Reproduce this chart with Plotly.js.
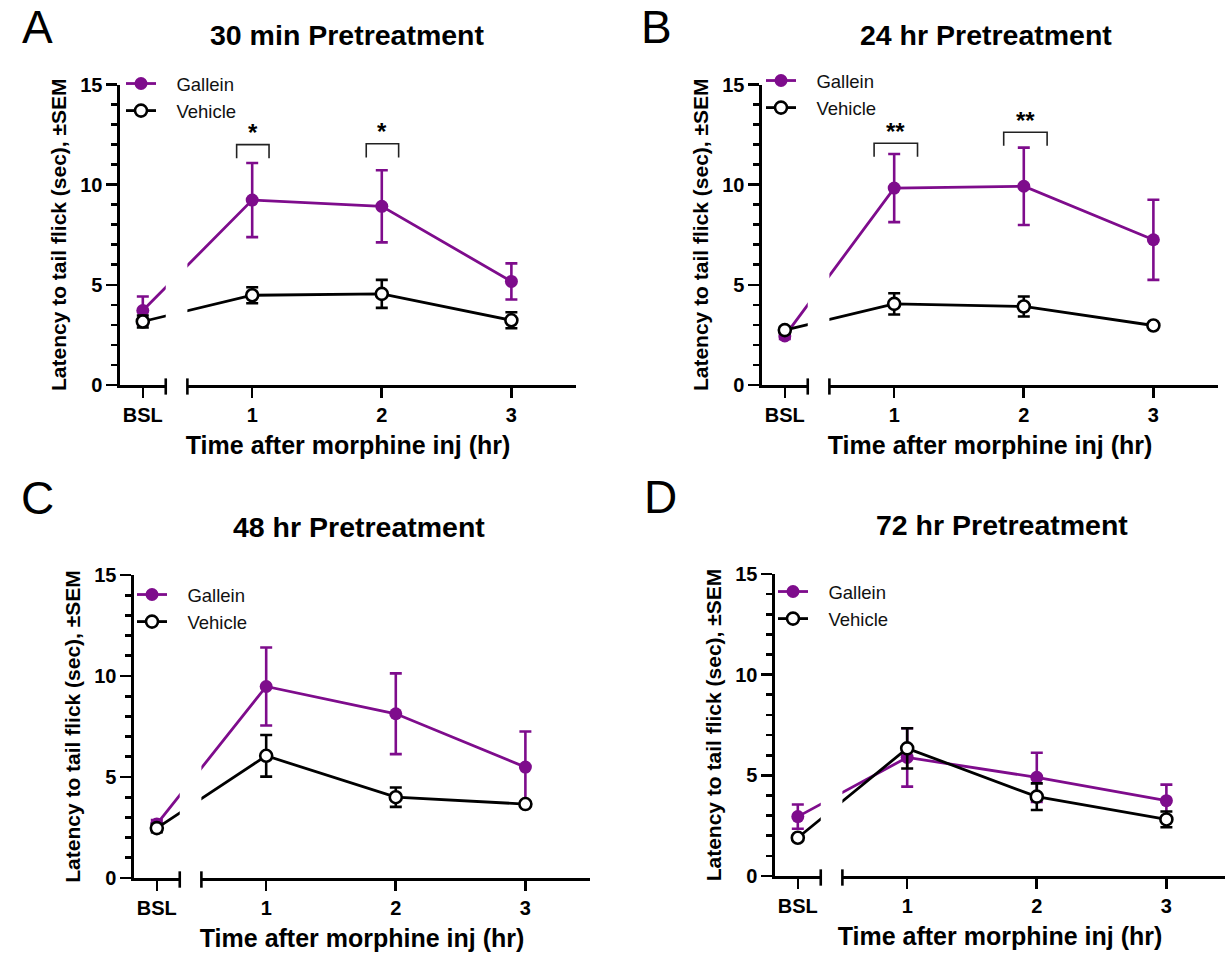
<!DOCTYPE html>
<html>
<head>
<meta charset="utf-8">
<script src="https://cdn.plot.ly/plotly-3.0.1.min.js"></script>
<style>html,body{margin:0;padding:0;background:#fff;}</style>
</head>
<body>
<div id="chart" style="width:1225px;height:962px;"></div>
<script>
// ---------------- data ----------------
const timePoints = ['BSL', '1', '2', '3'];
const seriesNames = ['Gallein', 'Vehicle'];
const panelLetters = ['A', 'B', 'C', 'D'];
const panelTitles = ['30 min Pretreatment', '24 hr Pretreatment', '48 hr Pretreatment', '72 hr Pretreatment'];
const xTitle = 'Time after morphine inj (hr)';
const yTitle = 'Latency to tail flick (sec), ±SEM';
const yTickVals = [0, 5, 10, 15];

// A: 30 min pretreatment
const galleinA = [3.72, 9.23, 8.92, 5.17];
const galleinA_sem = [0.7, 1.85, 1.8, 0.9];
const vehicleA = [3.17, 4.48, 4.55, 3.23];
const vehicleA_sem = [0.3, 0.4, 0.7, 0.4];
// B: 24 hr pretreatment
const galleinB = [2.45, 9.83, 9.92, 7.25];
const galleinB_sem = [0.15, 1.7, 1.93, 2.0];
const vehicleB = [2.74, 4.05, 3.92, 2.97];
const vehicleB_sem = [0.15, 0.53, 0.5, 0.05];
// C: 48 hr pretreatment
const galleinC = [2.67, 9.48, 8.13, 5.49];
const galleinC_sem = [0.2, 1.93, 2.0, 1.76];
const vehicleC = [2.47, 6.05, 4.0, 3.66];
const vehicleC_sem = [0.2, 1.03, 0.48, 0.1];
// D: 72 hr pretreatment
const galleinD = [2.95, 5.89, 4.9, 3.74];
const galleinD_sem = [0.6, 1.45, 1.22, 0.8];
const vehicleD = [1.9, 6.34, 3.94, 2.81];
const vehicleD_sem = [0.1, 1.0, 0.66, 0.39];

// significance marks (time point, label, bracket height)
const sigTimesA = ['1', '2'];
const sigLabelsA = ['*', '*'];
const sigTopsA = [12.0, 12.04];
const sigTimesB = ['1', '2'];
const sigLabelsB = ['**', '**'];
const sigTopsB = [12.07, 12.62];

// ---------------- layout helpers ----------------
const W = 1225, H = 962;
const PURPLE = '#7E0C8C';
const FONT = 'Arial, "Liberation Sans", sans-serif';
const pxPerUnit = 129.6;
const xStart = -0.02, xEndNominal = 3.5;
const posOf = {BSL: 0.156, '1': 1, '2': 2, '3': 3};
const breakLo = 0.333, breakHi = 0.5;
const legendPad = '\u00a0\u00a0\u00a0';

const panels = [
  {g: galleinA, gs: galleinA_sem, v: vehicleA, vs: vehicleA_sem, sigT: sigTimesA, sigL: sigLabelsA, sigY: sigTopsA,
   xL: 120, yTop: 84.5, yBot: 385, letter: [37, 27], title: [347, 35], leg: [121, 65], brL: -0.12, brR: 0.13},
  {g: galleinB, gs: galleinB_sem, v: vehicleB, vs: vehicleB_sem, sigT: sigTimesB, sigL: sigLabelsB, sigY: sigTopsB,
   xL: 762, yTop: 84.5, yBot: 385, letter: [656, 27], title: [986, 35], leg: [761, 62], brL: -0.155, brR: 0.18},
  {g: galleinC, gs: galleinC_sem, v: vehicleC, vs: vehicleC_sem, sigT: [], sigL: [], sigY: [],
   xL: 134, yTop: 575, yBot: 878, letter: [37, 498], title: [359, 527], leg: [132, 576], brL: 0, brR: 0},
  {g: galleinD, gs: galleinD_sem, v: vehicleD, vs: vehicleD_sem, sigT: [], sigL: [], sigY: [],
   xL: 775, yTop: 574, yBot: 876, letter: [660, 497], title: [1002, 525], leg: [773, 573], brL: 0, brR: 0}
];

const traces = [];
const layout = {
  width: W, height: H,
  margin: {l: 0, r: 0, t: 0, b: 0},
  paper_bgcolor: '#ffffff', plot_bgcolor: 'rgba(0,0,0,0)',
  showlegend: true,
  font: {family: FONT, color: '#000'},
  shapes: [], annotations: []
};

panels.forEach((p, i) => {
  const n = i === 0 ? '' : String(i + 1);
  const xa = 'x' + n, ya = 'y' + n;
  const legName = 'legend' + n;
  const xs = timePoints.map(t => posOf[t]);

  let xR = p.xL + (xEndNominal - xStart) * pxPerUnit;
  if (xR > W) xR = W;
  const xEnd = xStart + (xR - p.xL) / pxPerUnit;

  traces.push({
    type: 'scatter', mode: 'lines+markers', name: legendPad + seriesNames[0],
    x: xs, y: p.g, xaxis: xa, yaxis: ya, legend: legName,
    line: {color: PURPLE, width: 2.8},
    marker: {color: PURPLE, size: 13, symbol: 'circle', line: {width: 0}},
    error_y: {type: 'data', array: p.gs, visible: true, color: PURPLE, thickness: 2.6, width: 6},
    cliponaxis: false, hoverinfo: 'skip'
  });
  traces.push({
    type: 'scatter', mode: 'lines+markers', name: legendPad + seriesNames[1],
    x: xs, y: p.v, xaxis: xa, yaxis: ya, legend: legName,
    line: {color: '#000', width: 2.8},
    marker: {color: '#fff', size: 12, symbol: 'circle', line: {width: 2.6, color: '#000'}},
    error_y: {type: 'data', array: p.vs, visible: true, color: '#000', thickness: 2.6, width: 6},
    cliponaxis: false, hoverinfo: 'skip'
  });

  layout['xaxis' + n] = {
    domain: [p.xL / W, xR / W], range: [xStart, xEnd], anchor: ya,
    tickmode: 'array', tickvals: xs, ticktext: timePoints,
    ticks: 'outside', ticklen: 10, tickwidth: 2.6, tickcolor: '#000',
    showline: true, linewidth: 2.6, linecolor: '#000',
    showgrid: false, zeroline: false, fixedrange: true,
    tickfont: {family: FONT, size: 20, weight: 'bold', color: '#000'},
    title: {text: xTitle, font: {family: FONT, size: 25, weight: 'bold', color: '#000'}, standoff: 12}
  };
  layout['yaxis' + n] = {
    domain: [1 - p.yBot / H, 1 - p.yTop / H], range: [0, 15], anchor: xa,
    tickmode: 'array', tickvals: yTickVals,
    ticks: 'outside', ticklen: 11, tickwidth: 2.6, tickcolor: '#000',
    minor: {dtick: 1, tick0: 0, ticks: 'outside', ticklen: 6, tickwidth: 2.6, tickcolor: '#000', showgrid: false},
    showline: true, linewidth: 2.6, linecolor: '#000',
    showgrid: false, zeroline: false, fixedrange: true,
    tickfont: {family: FONT, size: 20, weight: 'bold', color: '#000'},
    title: {text: yTitle, font: {family: FONT, size: 21, weight: 'bold', color: '#000'}, standoff: 8}
  };

  // axis break: white gap + end caps
  layout.shapes.push({type: 'rect', xref: xa, yref: ya + ' domain', x0: breakLo, x1: breakHi, y0: -0.02, y1: 1,
    fillcolor: '#ffffff', line: {width: 0}, layer: 'above'});
  [breakLo, breakHi].forEach(bx => layout.shapes.push({
    type: 'line', xref: xa, yref: ya + ' domain', x0: bx, x1: bx, y0: -0.032, y1: 0.022,
    line: {color: '#000', width: 2.6}, layer: 'above'}));

  // significance brackets
  p.sigT.forEach((t, k) => {
    const c = posOf[t], top = p.sigY[k], low = top - 0.68;
    const x0 = c + p.brL, x1 = c + p.brR;
    layout.shapes.push({type: 'path', xref: xa, yref: ya,
      path: `M ${x0},${low} L ${x0},${top} L ${x1},${top} L ${x1},${low}`,
      line: {color: '#222', width: 1.6}, layer: 'above'});
    layout.annotations.push({xref: xa, yref: ya, x: c + (p.brL + p.brR) / 2, y: top + 0.6,
      text: p.sigL[k], showarrow: false, font: {family: FONT, size: 24, weight: 'bold', color: '#000'},
      xanchor: 'center', yanchor: 'middle'});
  });

  // panel letter and title
  layout.annotations.push({xref: 'paper', yref: 'paper', x: p.letter[0] / W, y: 1 - p.letter[1] / H,
    text: panelLetters[i], showarrow: false, xanchor: 'center', yanchor: 'middle',
    font: {family: FONT, size: 46, color: '#000'}});
  layout.annotations.push({xref: 'paper', yref: 'paper', x: p.title[0] / W, y: 1 - p.title[1] / H,
    text: panelTitles[i], showarrow: false, xanchor: 'center', yanchor: 'middle',
    font: {family: FONT, size: 28.5, weight: 'bold', color: '#000'}});

  layout[legName] = {
    x: p.leg[0] / W, y: 1 - p.leg[1] / H, xanchor: 'left', yanchor: 'top',
    bgcolor: 'rgba(0,0,0,0)', borderwidth: 0, tracegroupgap: 0,
    font: {family: FONT, size: 18.5, color: '#111'}, itemwidth: 30
  };
});

Plotly.newPlot('chart', traces, layout, {displayModeBar: false, staticPlot: true});
</script>
</body>
</html>
